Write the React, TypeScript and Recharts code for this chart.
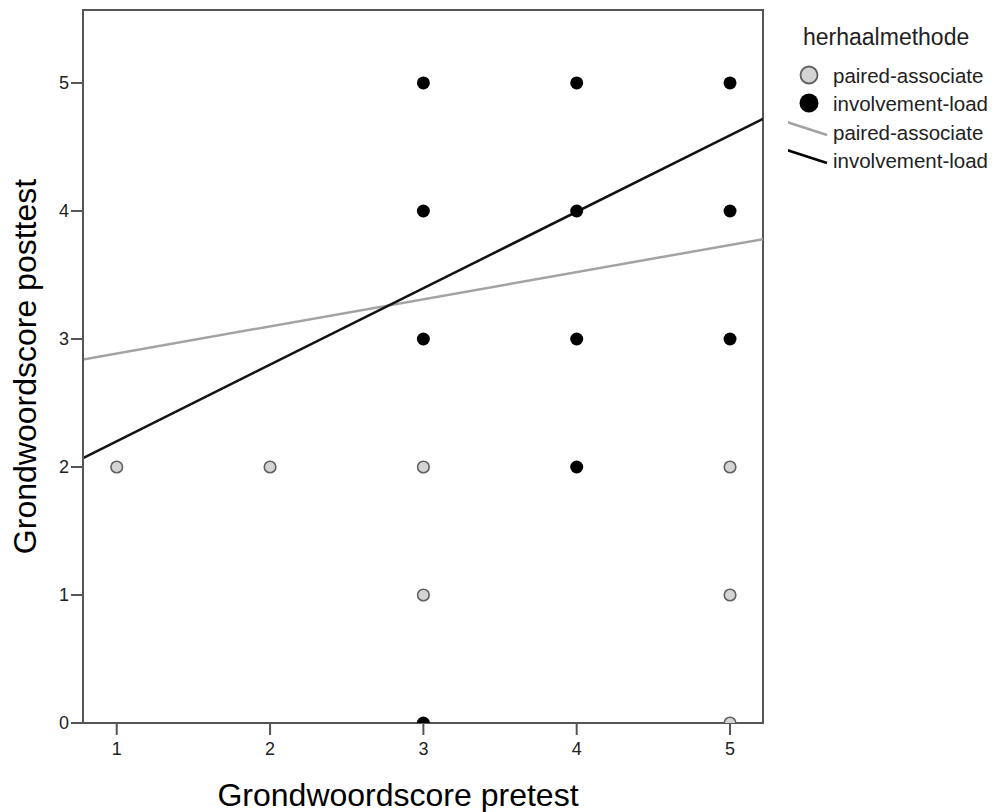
import { ComposedChart, Scatter, Line, XAxis, YAxis, ReferenceArea } from 'recharts'

// Scatter points: [pretest, posttest]
const pairedPoints = [
    { x: 1, y: 2 },
    { x: 2, y: 2 },
    { x: 3, y: 2 },
    { x: 3, y: 1 },
    { x: 5, y: 2 },
    { x: 5, y: 1 },
    { x: 5, y: 0 },
]

const involvementPoints = [
    { x: 3, y: 5 },
    { x: 3, y: 4 },
    { x: 3, y: 3 },
    { x: 3, y: 0 },
    { x: 4, y: 5 },
    { x: 4, y: 4 },
    { x: 4, y: 3 },
    { x: 4, y: 2 },
    { x: 5, y: 5 },
    { x: 5, y: 4 },
    { x: 5, y: 3 },
]

// Fit lines, endpoints read at the plot edges
const pairedFit = [
    { x: 0.78, y: 2.84 },
    { x: 5.215, y: 3.78 },
]

const involvementFit = [
    { x: 0.78, y: 2.07 },
    { x: 5.215, y: 4.72 },
]

const xTicks = [1, 2, 3, 4, 5]
const yTicks = [0, 1, 2, 3, 4, 5]
const xDomain = [0.78, 5.215]
const yDomain = [0, 5.57]

const legendTitle = 'herhaalmethode'
const groups = ['paired-associate', 'involvement-load']

const font = 'Arial, "Liberation Sans", sans-serif'
const gray = '#a3a3a3'

const GrayDot = (props: any) => (
    <circle cx={props.cx} cy={props.cy} r={5.8} fill="#d4d4d4" stroke="#606060" strokeWidth={1.6} />
)

const BlackDot = (props: any) => (
    <circle cx={props.cx} cy={props.cy} r={6.5} fill="#000" />
)

// legend drawn as a small svg to the right of the plot
function LegendBox() {
    const txt = { fontFamily: font, fill: '#222', dominantBaseline: 'central' as const }
    return (
        <svg width={212} height={180} style={{ position: 'absolute', left: 788, top: 0 }}>
            <text x={15} y={37} fontSize={23} {...txt}>{legendTitle}</text>
            <circle cx={21} cy={75} r={8.5} fill="#d4d4d4" stroke="#606060" strokeWidth={1.8} />
            <text x={45} y={75} fontSize={20.5} {...txt}>{groups[0]}</text>
            <circle cx={21} cy={103} r={9.5} fill="#000" />
            <text x={45} y={103} fontSize={20.5} {...txt}>{groups[1]}</text>
            <line x1={-1} y1={122} x2={39} y2={135} stroke={gray} strokeWidth={2.5} />
            <text x={45} y={132} fontSize={20.5} {...txt}>{groups[0]}</text>
            <line x1={-1} y1={150} x2={39} y2={163} stroke="#000" strokeWidth={2.5} />
            <text x={45} y={160} fontSize={20.5} {...txt}>{groups[1]}</text>
        </svg>
    )
}

export default function App() {
    return (
        <div style={{ position: 'absolute', left: 0, top: 0, width: 1000, height: 812, background: '#fff' }}>
            <ComposedChart width={1000} height={812} margin={{ top: 10, right: 237, left: 0, bottom: 0 }}>
                <XAxis
                    type="number"
                    dataKey="x"
                    domain={xDomain}
                    ticks={xTicks}
                    allowDataOverflow
                    height={89}
                    stroke="#555"
                    strokeWidth={2}
                    tickSize={12}
                    tickMargin={7}
                    tick={{ fill: '#222', fontSize: 18, fontFamily: font }}
                    label={{ value: 'Grondwoordscore pretest', position: 'insideBottom', offset: 6, dx: -25, fill: '#000', fontSize: 32, fontFamily: font }}
                />
                <YAxis
                    type="number"
                    dataKey="y"
                    domain={yDomain}
                    ticks={yTicks}
                    allowDataOverflow
                    width={83}
                    stroke="#555"
                    strokeWidth={2}
                    tickSize={12}
                    tickMargin={2}
                    tick={{ fill: '#222', fontSize: 18, fontFamily: font }}
                    label={{ value: 'Grondwoordscore posttest', angle: -90, position: 'insideLeft', offset: 25, fill: '#000', fontSize: 32, fontFamily: font, style: { textAnchor: 'middle' } }}
                />
                <ReferenceArea
                    x1={xDomain[0]}
                    x2={xDomain[1]}
                    y1={yDomain[0]}
                    y2={yDomain[1]}
                    fill="none"
                    stroke="#555"
                    strokeWidth={2}
                    ifOverflow="visible"
                />
                <Line data={pairedFit} dataKey="y" stroke={gray} strokeWidth={2.5} dot={false} activeDot={false} isAnimationActive={false} />
                <Line data={involvementFit} dataKey="y" stroke="#111" strokeWidth={2.5} dot={false} activeDot={false} isAnimationActive={false} />
                <Scatter data={pairedPoints} shape={GrayDot} isAnimationActive={false} />
                <Scatter data={involvementPoints} shape={BlackDot} isAnimationActive={false} />
            </ComposedChart>
            <LegendBox />
        </div>
    )
}
